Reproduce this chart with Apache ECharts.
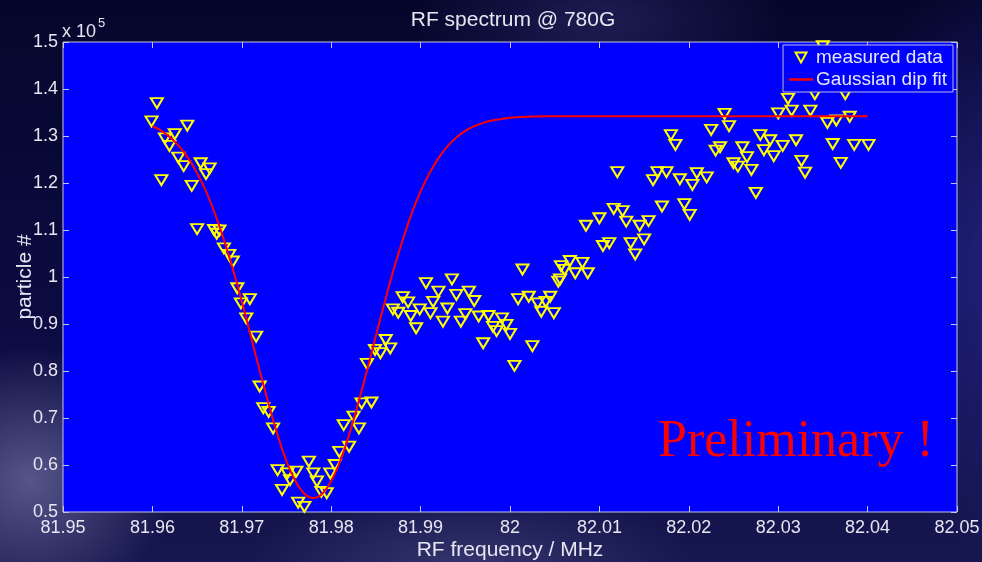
<!DOCTYPE html>
<html>
<head>
<meta charset="utf-8">
<title>RF spectrum @ 780G</title>
<script src="https://cdn.jsdelivr.net/npm/echarts@6/dist/echarts.min.js"></script>
<style>
  html, body { margin: 0; padding: 0; }
  body {
    width: 982px; height: 562px; overflow: hidden;
    background:
      radial-gradient(ellipse 200px 190px at 30px 480px, rgba(140,140,190,0.55), rgba(140,140,190,0) 70%),
      radial-gradient(ellipse 320px 110px at 470px 565px, rgba(110,110,170,0.35), rgba(110,110,170,0) 70%),
      radial-gradient(ellipse 260px 420px at 1010px 260px, rgba(50,50,170,0.6), rgba(50,50,170,0) 70%),
      radial-gradient(ellipse 260px 120px at 600px 20px, rgba(70,70,150,0.35), rgba(70,70,150,0) 70%),
      linear-gradient(180deg, #06062c 0%, #0b0b42 55%, #17174f 100%);
  }
  #chart { width: 982px; height: 562px; }
</style>
</head>
<body>
<div id="chart"></div>
<script>
// Measured particle number (in units of 1e5) versus RF frequency (MHz)
const freqMHz = [
  81.9605, 81.9599, 81.9639, 81.9625, 81.9614, 81.9619, 81.9629, 81.9635, 81.9654, 81.9664,
  81.9660, 81.9610, 81.9644, 81.9650, 81.9669, 81.9675, 81.9672, 81.9680, 81.9686, 81.9690,
  81.9695, 81.9709, 81.9699, 81.9705, 81.9716, 81.9720, 81.9724, 81.9730, 81.9735, 81.9740,
  81.9751, 81.9761, 81.9754, 81.9745, 81.9763, 81.9770, 81.9775, 81.9780, 81.9784, 81.9789,
  81.9795, 81.9799, 81.9804, 81.9809, 81.9820, 81.9814, 81.9825, 81.9831, 81.9834, 81.9845,
  81.9840, 81.9849, 81.9855, 81.9861, 81.9866,
  81.9869, 81.9875, 81.9880, 81.9886, 81.9889, 81.9895, 81.9899, 81.9906, 81.9911, 81.9914,
  81.9920, 81.9925, 81.9930, 81.9935, 81.9940, 81.9945, 81.9950, 81.9954, 81.9960, 81.9965,
  81.9970, 81.9976, 81.9981, 81.9985, 81.9991, 81.9996, 82.0000, 82.0005, 82.0009, 82.0014,
  82.0021, 82.0025, 82.0031, 82.0035, 82.0040, 82.0045, 82.0049, 82.0054, 82.0056,
  82.0057, 82.0061, 82.0067, 82.0073, 82.0081, 82.0087, 82.0085, 82.0100, 82.0104, 82.0111,
  82.0116, 82.0120, 82.0126, 82.0130, 82.0135, 82.0140, 82.0145, 82.0150, 82.0155, 82.0160,
  82.0165, 82.0170, 82.0175, 82.0180, 82.0185, 82.0190, 82.0195, 82.0201, 82.0204, 82.0209,
  82.0220, 82.0225, 82.0230, 82.0235, 82.0240, 82.0245, 82.0250, 82.0255, 82.0260, 82.0265,
  82.0270, 82.0275, 82.0280, 82.0284, 82.0291, 82.0295, 82.0300, 82.0305, 82.0311, 82.0315,
  82.0320, 82.0326, 82.0330, 82.0336, 82.0341, 82.0350, 82.0355, 82.0361, 82.0365, 82.0370,
  82.0375, 82.0380, 82.0385, 82.0401
];
const particles = [
  1.370, 1.331, 1.322, 1.304, 1.295, 1.279, 1.254, 1.236, 1.242, 1.231,
  1.219, 1.206, 1.194, 1.102, 1.100, 1.099, 1.092, 1.061, 1.047, 1.033,
  0.976, 0.953, 0.944, 0.912, 0.873, 0.767, 0.721, 0.713, 0.678, 0.589,
  0.582, 0.586, 0.568, 0.547, 0.520, 0.511, 0.607, 0.582, 0.565, 0.543,
  0.540, 0.582, 0.600, 0.628, 0.639, 0.685, 0.703, 0.678, 0.731, 0.733,
  0.815, 0.845, 0.838, 0.866, 0.848,
  0.931, 0.924, 0.957, 0.946, 0.917, 0.891, 0.931, 0.987, 0.923, 0.947,
  0.969, 0.905, 0.933, 0.995, 0.962, 0.905, 0.921, 0.969, 0.949, 0.916,
  0.859, 0.917, 0.894, 0.885, 0.912, 0.898, 0.879, 0.811, 0.953, 1.016,
  0.958, 0.853, 0.944, 0.926, 0.947, 0.958, 0.923, 0.990, 0.995,
  1.023, 1.015, 1.034, 1.008, 1.030, 1.008, 1.109, 1.125, 1.066, 1.072,
  1.145, 1.223, 1.140, 1.118, 1.072, 1.048, 1.109, 1.080, 1.119, 1.206,
  1.223, 1.150, 1.223, 1.302, 1.281, 1.208, 1.155, 1.132, 1.196, 1.221,
  1.212, 1.313, 1.269, 1.276, 1.347, 1.321, 1.242, 1.235, 1.276, 1.255,
  1.228, 1.179, 1.302, 1.270, 1.291, 1.257, 1.348, 1.279, 1.379, 1.354,
  1.291, 1.247, 1.222, 1.354, 1.389, 1.491, 1.328, 1.283, 1.333, 1.243,
  1.389, 1.341, 1.281, 1.281
];

// Fitted Gaussian dip, sampled along the frequency axis
const fitFreq = [
  81.960, 81.961, 81.962, 81.963, 81.964, 81.965, 81.966, 81.967, 81.968, 81.969,
  81.970, 81.971, 81.972, 81.973, 81.974, 81.975, 81.976, 81.977, 81.978, 81.979,
  81.980, 81.981, 81.982, 81.983, 81.984, 81.985, 81.986, 81.987, 81.988, 81.989,
  81.990, 81.991, 81.992, 81.993, 81.994, 81.995, 81.996, 81.997, 81.998, 81.999,
  82.000, 82.002, 82.004, 82.010, 82.020, 82.030, 82.040
];
const fitParticles = [
  1.321, 1.311, 1.297, 1.278, 1.253, 1.221, 1.182, 1.135, 1.079, 1.017,
  0.948, 0.875, 0.801, 0.730, 0.664, 0.608, 0.566, 0.539, 0.530, 0.539,
  0.566, 0.608, 0.664, 0.730, 0.801, 0.875, 0.948, 1.017, 1.079, 1.135,
  1.182, 1.221, 1.253, 1.278, 1.297, 1.311, 1.321, 1.328, 1.333, 1.336,
  1.339, 1.341, 1.342, 1.342, 1.342, 1.342, 1.342
];

const xRange = { min: 81.95, max: 82.05, step: 0.01 };
const yRange = { min: 0.5, max: 1.5, step: 0.1 };

const textColor = '#e6e6f2';
const frameColor = '#c4c4e6';
const fontFamily = '"Liberation Sans", Arial, sans-serif';

const scatterData = freqMHz.map((f, i) => [f, particles[i]]);
const fitData = fitFreq.map((f, i) => [f, fitParticles[i]]);

const fmt = (digits) => (v) => String(parseFloat(Number(v).toFixed(digits)));

const chart = echarts.init(document.getElementById('chart'), null, { renderer: 'canvas' });

const tickStyle = { inside: true, length: 6, lineStyle: { color: frameColor, width: 1 } };

chart.setOption({
  backgroundColor: 'transparent',
  animation: false,
  textStyle: { fontFamily: fontFamily },
  title: {
    text: 'RF spectrum @ 780G',
    left: 508,
    top: 5,
    textAlign: 'center',
    textStyle: { color: textColor, fontSize: 21, fontWeight: 'normal', fontFamily: fontFamily }
  },
  grid: {
    left: 63, right: 25, top: 42, bottom: 50,
    containLabel: false,
    outerBoundsMode: 'none',
    show: true,
    backgroundColor: '#0000ff',
    borderColor: frameColor,
    borderWidth: 1
  },
  legend: {
    right: 29,
    top: 45,
    orient: 'vertical',
    itemGap: 3,
    itemWidth: 24,
    itemHeight: 10,
    symbolKeepAspect: true,
    padding: [3, 6, 3, 6],
    backgroundColor: '#0000ff',
    borderColor: '#b8b8e0',
    borderWidth: 1,
    borderRadius: 0,
    textStyle: { color: textColor, fontSize: 19, fontFamily: fontFamily, padding: [0, 0, 0, -2] },
    data: [
      {
        name: 'measured data',
        icon: 'path://M0,0 L11,0 L5.5,10 Z',
        itemStyle: { color: 'rgba(0,0,0,0)', borderColor: '#ffff00', borderWidth: 2 }
      },
      {
        name: 'Gaussian dip fit',
        icon: 'path://M0,0 L24,0 L24,2.5 L0,2.5 Z',
        itemStyle: { color: '#ff0000', borderWidth: 0 }
      }
    ]
  },
  xAxis: [
    {
      type: 'value',
      min: xRange.min, max: xRange.max, interval: xRange.step,
      name: 'RF frequency / MHz',
      nameLocation: 'middle',
      nameGap: 28,
      nameMoveOverlap: false,
      nameTextStyle: { color: textColor, fontSize: 21, fontFamily: fontFamily },
      axisLine: { show: false },
      axisTick: tickStyle,
      splitLine: { show: false },
      axisLabel: { color: textColor, fontSize: 18, margin: 7, formatter: fmt(2), showMinLabel: true, showMaxLabel: true }
    },
    {
      type: 'value',
      position: 'top',
      min: xRange.min, max: xRange.max, interval: xRange.step,
      axisLine: { show: false },
      axisTick: tickStyle,
      splitLine: { show: false },
      axisLabel: { show: false }
    }
  ],
  yAxis: [
    {
      type: 'value',
      min: yRange.min, max: yRange.max, interval: yRange.step,
      name: 'particle #',
      nameLocation: 'middle',
      nameRotate: 90,
      nameGap: 27,
      nameMoveOverlap: false,
      nameTextStyle: { color: textColor, fontSize: 21, fontFamily: fontFamily },
      axisLine: { show: false },
      axisTick: tickStyle,
      splitLine: { show: false },
      axisLabel: { color: textColor, fontSize: 18, margin: 5, formatter: fmt(1) }
    },
    {
      type: 'value',
      position: 'right',
      min: yRange.min, max: yRange.max, interval: yRange.step,
      axisLine: { show: false },
      axisTick: tickStyle,
      splitLine: { show: false },
      axisLabel: { show: false }
    }
  ],
  graphic: [
    {
      type: 'text',
      left: 62,
      top: 17,
      style: {
        text: '{b|x 10}{s|5}',
        rich: {
          b: { fill: textColor, fontSize: 18, fontFamily: fontFamily, verticalAlign: 'bottom', lineHeight: 24 },
          s: { fill: textColor, fontSize: 13, fontFamily: fontFamily, verticalAlign: 'top', lineHeight: 24, padding: [0, 0, 13, 2] }
        }
      }
    },
    {
      type: 'text',
      left: 658,
      top: 416,
      z: 10,
      style: {
        text: 'Preliminary !',
        fill: '#ff0000',
        fontSize: 52,
        fontFamily: '"Liberation Serif", "Times New Roman", serif'
      }
    }
  ],
  series: [
    {
      name: 'measured data',
      type: 'scatter',
      data: scatterData,
      symbol: 'triangle',
      symbolRotate: 180,
      symbolSize: [12, 10],
      itemStyle: { color: 'rgba(0,0,0,0)', borderColor: '#ffff00', borderWidth: 2, opacity: 1 },
      z: 3
    },
    {
      name: 'Gaussian dip fit',
      type: 'line',
      data: fitData,
      smooth: 0.3,
      symbol: 'none',
      showSymbol: false,
      lineStyle: { color: '#ff0000', width: 2 },
      itemStyle: { color: '#ff0000' },
      z: 4
    }
  ]
});
</script>
</body>
</html>
